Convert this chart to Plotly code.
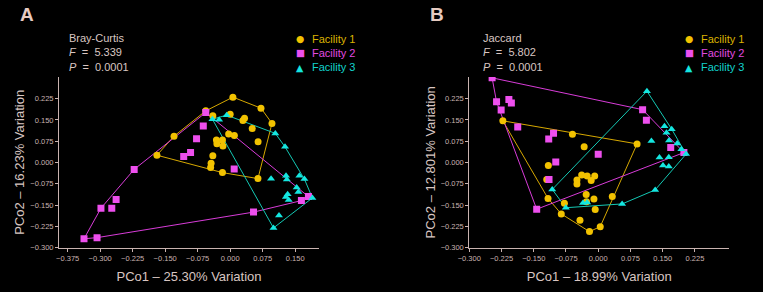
import plotly.graph_objects as go
from plotly.subplots import make_subplots

# ---------------- data ----------------
# Panel A: Bray-Curtis PCoA
a_f1_x = [-0.1296, -0.0563, -0.0400, 0.0063, 0.0000, 0.0331, 0.0294, 0.0711, 0.0965, 0.0509,
          -0.0035, 0.0097, -0.0317, -0.0178, -0.0306, -0.0167, 0.0644, -0.1690, -0.0400,
          -0.0440, -0.0451, -0.0178, 0.0641]
a_f1_y = [0.0927, 0.1818, 0.1642, 0.2300, 0.1702, 0.1561, 0.1476, 0.1913, 0.1377, 0.1201,
          0.1001, 0.0948, 0.0796, 0.0796, 0.0662, 0.0585, 0.0726, 0.0257, 0.0233,
          -0.0025, -0.0173, -0.0356, -0.0567]
a_f2_x = [-0.0563, -0.0620, -0.0776, -0.1072, -0.0914, -0.2215, 0.0093, -0.2632, -0.2982,
          -0.2732, -0.3373, -0.3072, 0.0539, 0.1644, 0.1806]
a_f2_y = [0.1758, 0.1289, 0.0838, 0.0208, 0.0349, -0.0243, -0.0225, -0.1307, -0.1610,
          -0.1610, -0.2685, -0.2646, -0.1747, -0.1342, -0.1201]
a_f3_x = [-0.0410, -0.0255, -0.0081, 0.1042, 0.1266, 0.0944, 0.1289, 0.1308, 0.1597, 0.1713,
          0.1535, 0.1574, 0.1285, 0.1326, 0.1350, 0.1898, 0.1127, 0.1000]
a_f3_y = [0.1525, 0.1501, 0.1666, 0.1025, 0.0550, -0.0571, -0.0465, -0.0595, -0.0465, -0.0585,
          -0.0884, -0.1036, -0.1212, -0.1117, -0.1318, -0.1247, -0.1864, -0.2304]

# Panel B: Jaccard PCoA
b_f1_x = [-0.2219, -0.0600, -0.0327, 0.0904, -0.1161, -0.1198, -0.0385, -0.0257, -0.0082,
          -0.0495, -0.0495, -0.0164, -0.0280, -0.0273, -0.0100, -0.1168, -0.0787, 0.0327,
          -0.0860, -0.0070, -0.0425, -0.0203, 0.0047]
b_f1_y = [0.1466, 0.0990, 0.0557, 0.0655, -0.0109, -0.0602, -0.0444, -0.0472, -0.0472,
          -0.0613, -0.0761, -0.0638, -0.1124, -0.1381, -0.1282, -0.1265, -0.1434, -0.1201,
          -0.1811, -0.1659, -0.2033, -0.2434, -0.2258]
b_f2_x = [-0.2469, -0.2366, -0.2259, -0.2079, -0.2021, -0.1873, -0.1040, -0.1152, 0.1033,
          0.1121, 0.0000, 0.1687, 0.1993, -0.0988, -0.1145, -0.1432]
b_f2_y = [0.2980, 0.2135, 0.1846, 0.2216, 0.2093, 0.1247, 0.1032, 0.0824, 0.1860,
          0.1483, 0.0292, 0.0532, 0.0349, 0.0014, -0.0595, -0.1645]
b_f3_x = [0.1133, 0.1542, 0.1710, 0.1588, 0.1238, 0.1647, 0.1838, 0.1934, 0.2044, 0.1425,
          0.1642, 0.1507, 0.1642, 0.1325, 0.0556, -0.0755, -0.1070, -0.0355, -0.0257]
b_f3_y = [0.2512, 0.1279, 0.1173, 0.1043, 0.0761, 0.0772, 0.0673, 0.0462, 0.0296, 0.0180,
          0.0187, -0.0102, -0.0144, -0.0965, -0.1459, -0.1592, -0.0948, -0.1423, -0.1406]

a_xticks = [-0.375, -0.300, -0.225, -0.150, -0.075, 0.000, 0.075, 0.150]
b_xticks = [-0.300, -0.225, -0.150, -0.075, 0.000, 0.075, 0.150, 0.225]
yticks = [-0.300, -0.225, -0.150, -0.075, 0.000, 0.075, 0.150, 0.225]

facilities = ["Facility 1", "Facility 2", "Facility 3"]
a_stats = ["Bray-Curtis", "5.339", "0.0001"]
b_stats = ["Jaccard", "5.802", "0.0001"]
a_xtitle = "PCo1 – 25.30% Variation"
a_ytitle = "PCo2 – 16.23% Variation"
b_xtitle = "PCo1 – 18.99% Variation"
b_ytitle = "PCo2 – 12.801% Variation"

# ---------------- styles ----------------
MARK = ["#f2c200", "#ee4fee", "#14e6e0"]
LINE = ["#d6a800", "#d83cd8", "#14c8b4"]
LEGTXT = ["#dcb400", "#e04ae0", "#12d2cc"]
SYMB = ["circle", "square", "triangle-up"]
MSIZE = [7, 7, 7]
AXC = "#c9b3b0"
TXT = "#d9c6c2"
FONT = "Liberation Sans, Arial, sans-serif"


def hull(xs, ys):
    pts = sorted(set(zip(xs, ys)))
    if len(pts) < 3:
        return pts

    def cross(o, a, b):
        return (a[0] - o[0]) * (b[1] - o[1]) - (a[1] - o[1]) * (b[0] - o[0])

    lower, upper = [], []
    for p in pts:
        while len(lower) >= 2 and cross(lower[-2], lower[-1], p) <= 0:
            lower.pop()
        lower.append(p)
    for p in reversed(pts):
        while len(upper) >= 2 and cross(upper[-2], upper[-1], p) <= 0:
            upper.pop()
        upper.append(p)
    h = lower[:-1] + upper[:-1]
    return h + [h[0]]


fig = make_subplots(rows=1, cols=2)

panels = [
    (1, [(a_f1_x, a_f1_y), (a_f2_x, a_f2_y), (a_f3_x, a_f3_y)]),
    (2, [(b_f1_x, b_f1_y), (b_f2_x, b_f2_y), (b_f3_x, b_f3_y)]),
]
for col, series in panels:
    for i, (xs, ys) in enumerate(series):
        h = hull(xs, ys)
        fig.add_trace(go.Scatter(x=[p[0] for p in h], y=[p[1] for p in h], mode="lines",
                                 line=dict(color=LINE[i], width=1), hoverinfo="skip",
                                 showlegend=False), row=1, col=col)
    for i, (xs, ys) in enumerate(series):
        fig.add_trace(go.Scatter(x=xs, y=ys, mode="markers", name=facilities[i],
                                 marker=dict(color=MARK[i], symbol=SYMB[i], size=MSIZE[i],
                                             line=dict(width=0)),
                                 showlegend=False), row=1, col=col)

W, H = 763, 292


def px(x):
    return x / W


def py(y):
    return 1 - y / H


axis_common = dict(showline=True, linecolor=AXC, linewidth=1, ticks="outside", ticklen=3,
                   tickcolor=AXC, tickwidth=1, showgrid=False, zeroline=False,
                   automargin=False,
                   tickfont=dict(family=FONT, size=7.5, color=AXC), tickformat=".3f",
                   title_font=dict(family=FONT, size=13, color=TXT))

fig.update_xaxes(**axis_common)
fig.update_yaxes(**axis_common)

fig.update_xaxes(domain=[px(59), px(319)], range=[-0.395, 0.205], tickvals=a_xticks,
                 title_text=a_xtitle, title_standoff=10, row=1, col=1)
fig.update_xaxes(domain=[px(469.3), px(729.3)], range=[-0.300, 0.305], tickvals=b_xticks,
                 title_text=b_xtitle, title_standoff=10, row=1, col=2)
fig.update_yaxes(domain=[py(247.7), py(77)], range=[-0.300, 0.301], tickvals=yticks,
                 title_text=a_ytitle, title_standoff=2, row=1, col=1)
fig.update_yaxes(domain=[py(247.7), py(77)], range=[-0.300, 0.301], tickvals=yticks,
                 title_text=b_ytitle, title_standoff=2, row=1, col=2)

ann = []
# panel letters
for letter, x in [("A", 18), ("B", 428)]:
    ann.append(dict(text="<b>%s</b>" % letter, x=px(x), y=py(15), xref="paper", yref="paper",
                    xanchor="left", yanchor="middle", showarrow=False,
                    font=dict(family=FONT, size=19, color="#e6cbc2")))
# stats text
for stats, x in [(a_stats, 67), (b_stats, 481)]:
    txt = (stats[0] + "<br><i>F</i>\u00a0 =\u00a0 " + stats[1] +
           "<br><i>P</i>\u00a0 =\u00a0 " + stats[2])
    ann.append(dict(text=txt, x=px(x), y=py(29.5), xref="paper", yref="paper",
                    xanchor="left", yanchor="top", align="left", showarrow=False,
                    font=dict(family=FONT, size=11, color=TXT)))
# legends
GLYPH = ["●", "■", "▲"]
GSIZE = [9.5, 9.5, 9.5]
for mx, tx in [(300, 310), (689.3, 699)]:
    for i, yy in enumerate([39, 53, 67]):
        ann.append(dict(text=GLYPH[i], x=px(mx), y=py(yy), xref="paper", yref="paper",
                        xanchor="center", yanchor="middle", showarrow=False,
                        font=dict(family="DejaVu Sans", size=GSIZE[i], color=MARK[i])))
        ann.append(dict(text=facilities[i], x=px(tx), y=py(yy), xref="paper", yref="paper",
                        xanchor="left", yanchor="middle", showarrow=False,
                        font=dict(family=FONT, size=11, color=LEGTXT[i])))

fig.update_layout(width=W, height=H, margin=dict(l=0, r=0, t=0, b=0, autoexpand=False),
                  paper_bgcolor="black", plot_bgcolor="black", annotations=ann,
                  showlegend=False, font=dict(family=FONT))

fig.write_html("out.html", config={"displayModeBar": False},
               post_script="document.body.style.margin='0';"
                           "document.body.style.background='black';")
